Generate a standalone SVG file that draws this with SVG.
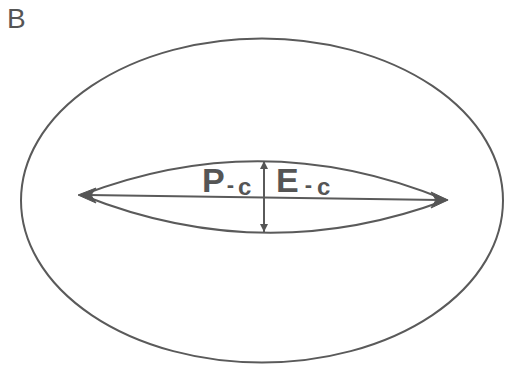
<svg xmlns="http://www.w3.org/2000/svg" width="505" height="365" viewBox="0 0 505 365">
<style>
.ln{fill:none;stroke:#5a5a5a;stroke-width:2}
.head{fill:#555;stroke:#555;stroke-width:1;stroke-linejoin:round}
.lbl{font-family:"Liberation Sans",Arial,sans-serif;fill:#555}
</style>
<defs>
<marker id="sm" viewBox="0 0 10 10" refX="10" refY="5" markerWidth="8" markerHeight="9" markerUnits="userSpaceOnUse" orient="auto"><path d="M0,0 L10,5 L0,10 Z" fill="#555"/></marker>
</defs>
<rect width="505" height="365" fill="#fff"/>
<text class="lbl" x="7" y="28" font-size="28">B</text>
<g id="cell"><ellipse class="ln" cx="262" cy="200.5" rx="241" ry="162"/></g>
<g id="lens"><path class="ln" d="M82,195 Q264,125 446,200 Q264,268 82,195 Z"/></g>
<g id="connectors">
<line class="ln" x1="88" y1="195" x2="440" y2="200"/>
<path class="head" d="M78,195 L96,188 L91,195 L96,203 Z"/>
<path class="head" d="M448,200 L431,192 L436,200 L431,208 Z"/>
<line class="ln" x1="264" y1="196" x2="264" y2="161" stroke-width="1.5" marker-end="url(#sm)"/>
<line class="ln" x1="264" y1="196" x2="264" y2="232" stroke-width="1.5" marker-end="url(#sm)"/>
</g>
<g id="labels">
<text class="lbl" x="202" y="192" font-size="34" font-weight="bold">P<tspan font-size="22" dx="2">-</tspan><tspan font-size="24" dx="4" dy="3">c</tspan></text>
<text class="lbl" x="276" y="192" font-size="34" font-weight="bold">E<tspan font-size="22" dx="6">-</tspan><tspan font-size="24" dx="5" dy="3">c</tspan></text>
</g>
</svg>
